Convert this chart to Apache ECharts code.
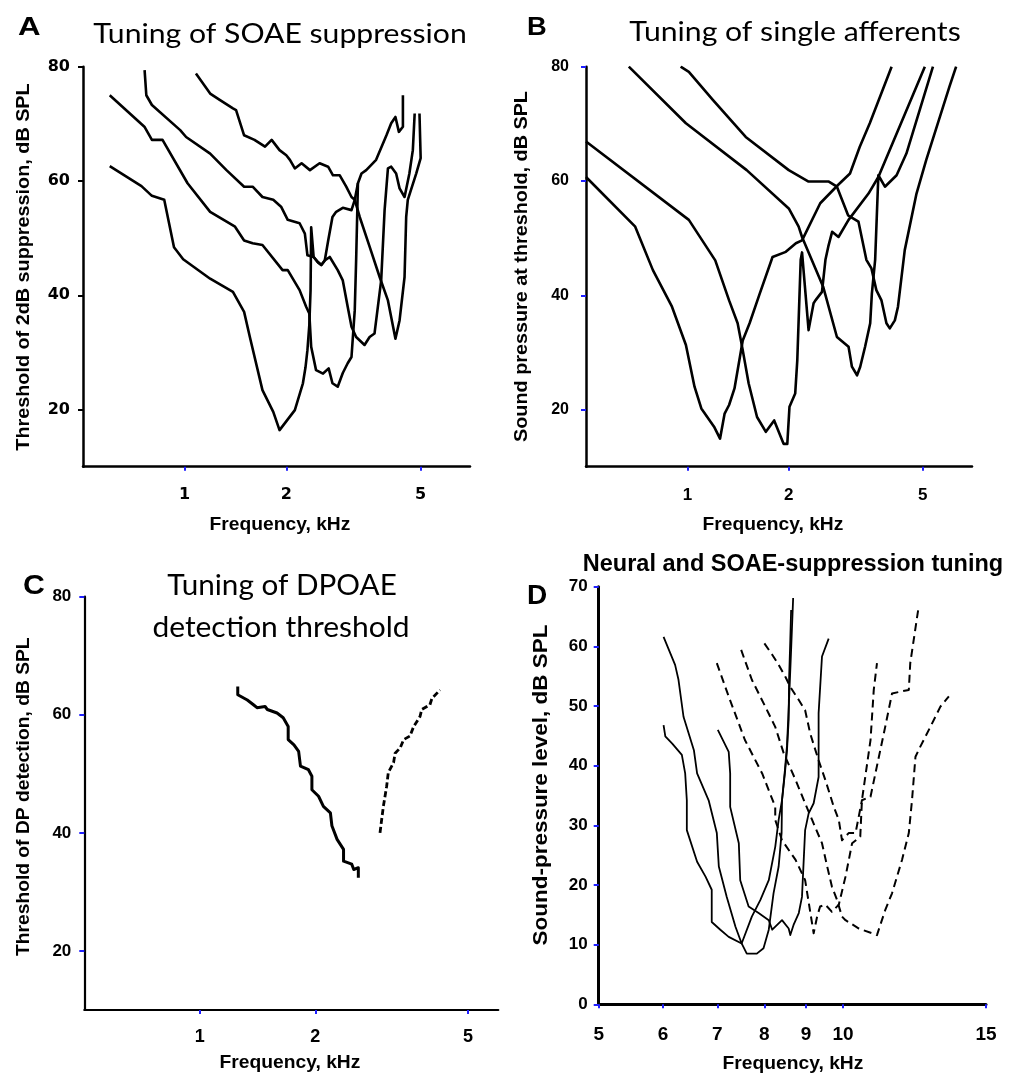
<!DOCTYPE html>
<html><head><meta charset="utf-8">
<script src="https://cdn.jsdelivr.net/npm/echarts@6/dist/echarts.min.js"></script>
<style>html,body{margin:0;padding:0;background:#fff}#c{width:1025px;height:1075px}</style>
</head><body><div id="c"></div>
<script>
// ---------- Panel A: SOAE suppression tuning (kHz, dB SPL) ----------
const soaeA1 = [[0.6,62.6],[0.745,59.1],[0.8,57.4],[0.87,56.7],[0.93,48.4],[0.99,46.3],[1.19,42.9],[1.39,40.6],[1.5,37.1],[1.56,32.7],[1.7,23.4],[1.83,19.6],[1.91,16.4],[2.12,19.9],[2.24,24.6],[2.28,27.4],[2.31,30.4],[2.34,34.8],[2.36,40.9],[2.37,51.9],[2.41,46.7],[2.48,45.8],[2.54,45.3],[2.6,46.1],[2.66,49.5],[2.74,53.7],[2.81,54.6],[2.94,55.3],[3.12,54.9],[3.19,56.7],[3.26,59.6]];
const soaeA2 = [[0.6,75],[0.76,69.5],[0.8,67.2],[0.86,67.2],[1.02,59.6],[1.19,54.6],[1.41,52],[1.5,49.6],[1.59,49.1],[1.7,48.8],[1.95,44.4],[2.02,44.4],[2.19,40.9],[2.29,38],[2.34,36.8],[2.37,31],[2.45,26.9],[2.57,26.3],[2.67,27.2],[2.74,24.6],[2.84,24],[2.94,26.4],[3.04,28.1],[3.12,29.2],[3.19,37.4],[3.22,46.1],[3.26,59.6],[3.34,61.3],[3.45,61.9],[3.69,63.7],[3.96,68],[4.09,70.1],[4.21,71.2],[4.31,68.6],[4.43,69.5],[4.43,75]];
const soaeA3 = [[0.761,79.4],[0.77,75],[0.8,73.3],[0.97,68.9],[1.01,67.7],[1.19,64.8],[1.33,61.9],[1.5,59],[1.59,59],[1.7,57.2],[1.83,56.7],[1.93,55.5],[2.02,53.2],[2.19,52.6],[2.27,50.8],[2.31,47],[2.41,46.7],[2.48,45.8],[2.54,45.3],[2.6,46.1],[2.69,46.7],[2.84,44.4],[2.94,42.6],[3.04,38],[3.12,34.5],[3.22,32.7],[3.41,31.3],[3.53,32.7],[3.65,33.3],[3.82,42.6],[3.91,54.9],[4.0,62.2],[4.09,62.5],[4.23,61.3],[4.33,58.7],[4.48,57.2],[4.63,61.3],[4.74,65.4],[4.8,71.8]];
const soaeA4 = [[1.08,78.8],[1.19,75.3],[1.27,74.2],[1.39,72.7],[1.42,72.4],[1.5,68],[1.61,67.2],[1.73,66],[1.81,67.2],[1.91,65.4],[2.0,64.5],[2.05,63.7],[2.12,62.2],[2.22,63.1],[2.35,61.9],[2.51,63.1],[2.66,62.5],[2.75,61],[2.88,61],[3.01,59],[3.12,57.2],[3.19,56.7],[3.3,53.7],[3.53,48.5],[3.78,43.2],[4.0,39.1],[4.21,32.4],[4.33,35.6],[4.48,43.2],[4.53,53.7],[4.58,56.7],[4.85,61.3],[5.0,64],[4.96,71.8]];

// ---------- Panel B: single afferent tuning ----------
const afferentB1 = [[0.5,60.7],[0.7,52],[0.79,44.4],[0.9,38],[0.99,31.3],[1.05,24],[1.1,20.2],[1.2,17],[1.25,14.9],[1.29,19.3],[1.33,20.8],[1.38,23.7],[1.46,32.1],[1.53,35.1],[1.64,40.3],[1.79,46.7],[1.96,47.6],[2.1,49.1],[2.19,49.6],[2.48,56.1],[2.8,59.3],[3.04,61.3],[3.25,66],[3.48,70.1],[4.04,80]];
const afferentB2 = [[0.5,66.9],[1.01,53.2],[1.21,46.1],[1.33,39.1],[1.41,35.1],[1.46,30.4],[1.52,24.6],[1.61,18.7],[1.71,16.1],[1.81,18.1],[1.93,14],[1.98,14],[2.01,20.5],[2.09,22.8],[2.12,28.6],[2.17,46.2],[2.19,47.5],[2.29,33.9],[2.37,38.6],[2.4,39.1],[2.51,40.6],[2.57,46.2],[2.62,48.5],[2.69,51.1],[2.81,50.2],[3.01,53.2],[3.45,57.8],[3.69,60.7],[5.07,80]];
const afferentB3 = [[0.67,80],[0.99,70.1],[1.5,61.9],[2.0,55.2],[2.14,52],[2.19,50.2],[2.53,41.5],[2.78,32.7],[3.01,31],[3.08,27.5],[3.19,26],[3.26,27.5],[3.37,31],[3.49,35.1],[3.53,40.3],[3.61,46.2],[3.69,61],[3.86,59],[4.18,61],[4.47,64.8],[5.36,80]];
const afferentB4 = [[0.955,80],[1.01,79.1],[1.19,74.2],[1.49,67.7],[2.0,61.9],[2.29,59.9],[2.63,59.9],[2.78,59],[3.0,54],[3.22,52.9],[3.4,46.2],[3.52,44.7],[3.64,40.9],[3.77,39.1],[3.9,35.1],[3.99,34.2],[4.13,35.6],[4.22,38],[4.42,47.9],[4.79,57.8],[5.12,63.7],[6.0,76.5],[6.28,80]];

// ---------- Panel C: DPOAE detection threshold ----------
const dpSolid = [[1.256,64.8],[1.256,63.4],[1.33,62.5],[1.38,61.7],[1.41,61.2],[1.48,61.4],[1.5,60.9],[1.59,60.3],[1.65,59.5],[1.7,58],[1.7,55.8],[1.76,54.9],[1.81,53.8],[1.83,51.3],[1.92,50.7],[1.96,49.6],[1.96,47.3],[2.04,46.2],[2.1,44.5],[2.19,43.4],[2.21,41.2],[2.28,38.9],[2.37,37.2],[2.37,35.2],[2.49,34.7],[2.52,33.8],[2.59,34.1],[2.59,32.4]];
const dpDashed = [[2.95,40],[2.98,42.3],[3.01,44.5],[3.07,47.9],[3.1,50.2],[3.2,51.9],[3.23,53.5],[3.33,54.4],[3.4,55.8],[3.53,56.4],[3.61,58],[3.75,59.7],[3.79,60.9],[3.98,61.7],[4.03,62.8],[4.23,64.2]];

// ---------- Panel D: neural (solid) and SOAE-suppression (dashed) ----------
const neuralD1 = [[6.01,61.6],[6.21,56.9],[6.27,54.4],[6.36,48.2],[6.55,42.6],[6.61,38.7],[6.83,34.2],[6.99,28.7],[7.03,23.1],[7.19,18],[7.37,13],[7.5,10.2],[7.72,14.7],[7.91,17.5],[8.1,20.8],[8.25,26.4],[8.33,30.9],[8.41,34.2],[8.48,38.8],[8.53,42.6],[8.57,47.7],[8.58,54.4],[8.61,61.1],[8.63,66.1]];
const neuralD2 = [[6.01,46.8],[6.04,44.9],[6.16,43.7],[6.33,41.8],[6.39,38.7],[6.42,34.2],[6.42,29.2],[6.61,23.9],[6.77,21.4],[6.89,19.2],[6.89,13.8],[7.06,12.5],[7.23,11.3],[7.5,10.2],[7.61,8.5],[7.83,8.5],[7.98,9.4],[8.1,12.5],[8.21,18.6],[8.33,23.1],[8.4,28.7],[8.41,34.2],[8.48,39.3],[8.53,43.4],[8.58,51],[8.63,59.4],[8.68,68.1]];
const neuralD3 = [[7.01,46],[7.23,42.3],[7.26,38.7],[7.26,33.1],[7.44,27],[7.47,20.8],[7.65,16.4],[7.87,15.3],[8.1,14.1],[8.18,12.5],[8.41,14.1],[8.57,12.7],[8.61,11.6],[8.69,13.3],[8.82,15.3],[8.9,18],[8.98,29.2],[9.07,32],[9.2,33.7],[9.33,38.1],[9.33,48.8],[9.42,58.3],[9.6,61.3]];
const soaeD1 = [[6.99,57.2],[7.23,51.6],[7.57,44.3],[7.95,38.7],[8.25,33.1],[8.25,30.9],[8.41,27.5],[8.74,24.2],[8.98,20.8],[9.2,11.9],[9.29,14.7],[9.37,16.4],[9.51,16.7],[9.69,15.5],[9.88,16.7],[10.07,21.4],[10.26,27],[10.5,28.1],[10.55,34.2],[10.81,44.3],[10.91,52.7],[11.01,57.2]];
const soaeD2 = [[7.49,59.4],[7.72,54.4],[8.02,49.9],[8.25,46.5],[8.45,42.1],[8.74,37.6],[8.98,33.7],[9.16,30.9],[9.42,27],[9.56,23.1],[9.69,19.7],[9.83,17.5],[9.97,14.7],[10.07,14.1],[10.46,12.7],[11.01,11.6],[11.27,15.8],[11.49,18.6],[11.82,24.2],[12.05,28.7],[12.16,34.2],[12.28,41.5],[12.45,43.2],[12.81,46.5],[13.18,49.9],[13.5,51.6]];
const soaeD3 = [[8.0,60.5],[8.18,58.6],[8.33,56.9],[8.49,54.9],[8.61,53.2],[8.82,51],[8.98,49.3],[9.11,45.4],[9.33,40.9],[9.51,37.6],[9.74,33.1],[9.88,30.9],[9.97,27.5],[10.16,28.7],[10.36,28.7],[10.55,34.2],[10.81,34.8],[11.07,41.5],[11.27,46.5],[11.49,52.1],[11.76,52.4],[12.05,52.7],[12.1,57.2],[12.39,66.6]];

// ---------- ticks ----------
const freqTicksABC = [1, 2, 5];
const levelTicksABC = [20, 40, 60, 80];
const freqTicksD = [5, 6, 7, 8, 9, 10, 15];
const levelTicksD = [0, 10, 20, 30, 40, 50, 60, 70];

const LOG = v => Math.log10(v);
const BLUE = '#1f1fff';
const ARIAL = '"Liberation Sans", Arial, sans-serif';
const DEJAVU = '"DejaVu Sans", sans-serif';

function xAxisLog(gi, lo, hi, ticks, o) {
  const cv = ticks.map(LOG);
  return {
    gridIndex: gi, type: 'value', min: LOG(lo), max: LOG(hi),
    axisLine: { show: true, onZero: false, lineStyle: { color: '#000', width: o.lw } },
    axisTick: { show: true, customValues: cv, length: 4, lineStyle: { color: BLUE, width: 2 } },
    axisLabel: { customValues: cv, margin: o.margin, color: '#000', fontSize: o.fs, fontWeight: 'bold', fontFamily: o.ff,
      formatter: v => String(Math.round(Math.pow(10, v))) },
    splitLine: { show: false }
  };
}
function yAxisLin(gi, lo, hi, ticks, o) {
  return {
    gridIndex: gi, type: 'value', min: lo, max: hi,
    axisLine: { show: true, onZero: false, lineStyle: { color: '#000', width: o.lw } },
    axisTick: { show: true, customValues: ticks, length: 5, lineStyle: { color: o.tc, width: 2 } },
    axisLabel: { customValues: ticks, margin: o.margin, color: '#000', fontSize: o.fs, fontWeight: 'bold', fontFamily: o.ff },
    splitLine: { show: false }
  };
}
function line(data, gi, width, dash) {
  return {
    type: 'line', xAxisIndex: gi, yAxisIndex: gi, silent: true, animation: false,
    showSymbol: false, symbol: 'none',
    data: data.map(p => [LOG(p[0]), p[1]]),
    lineStyle: { color: '#000', width: width, type: dash || 'solid', cap: 'butt', join: 'round' }
  };
}
function txt(t, x, y, font, sx, rot, align) {
  return { type: 'text', x: x, y: y, rotation: rot || 0, scaleX: sx || 1, silent: true,
    style: { text: t, font: font, fill: '#000', textAlign: align || 'center', textVerticalAlign: 'middle' } };
}

const chart = echarts.init(document.getElementById('c'), null, { renderer: 'canvas' });
chart.setOption({
  animation: false,
  backgroundColor: '#fff',
  grid: [
    { left: 83, top: 66.7, width: 387, height: 400 },
    { left: 586, top: 66.7, width: 386, height: 400 },
    { left: 84.3, top: 596.7, width: 414, height: 413.3 },
    { left: 598.7, top: 586.7, width: 387.3, height: 417.6 }
  ],
  xAxis: [
    xAxisLog(0, 0.5, 7, freqTicksABC, { lw: 2.5, margin: 20, fs: 16, ff: DEJAVU }),
    xAxisLog(1, 0.5, 7, freqTicksABC, { lw: 2.5, margin: 20, fs: 17, ff: ARIAL }),
    xAxisLog(2, 0.5, 6, freqTicksABC, { lw: 2.2, margin: 18, fs: 18, ff: ARIAL }),
    xAxisLog(3, 5, 15, freqTicksD, { lw: 3, margin: 21, fs: 19, ff: ARIAL })
  ],
  yAxis: [
    yAxisLin(0, 10, 80, levelTicksABC, { lw: 2.5, margin: 13, fs: 16, ff: DEJAVU, tc: '#000' }),
    yAxisLin(1, 10, 80, levelTicksABC, { lw: 2.5, margin: 17, fs: 16, ff: ARIAL, tc: BLUE }),
    yAxisLin(2, 10, 80, levelTicksABC, { lw: 2.2, margin: 13, fs: 17, ff: ARIAL, tc: BLUE }),
    yAxisLin(3, 0, 70, levelTicksD, { lw: 3, margin: 11, fs: 17, ff: ARIAL, tc: BLUE })
  ],
  series: [
    line(soaeA1, 0, 2.6), line(soaeA2, 0, 2.6), line(soaeA3, 0, 2.6), line(soaeA4, 0, 2.6),
    line(afferentB1, 1, 2.6), line(afferentB2, 1, 2.6), line(afferentB3, 1, 2.6), line(afferentB4, 1, 2.6),
    line(dpSolid, 2, 3), line(dpDashed, 2, 2.8, [6, 3]),
    line(neuralD1, 3, 1.8), line(neuralD2, 3, 1.8), line(neuralD3, 3, 1.8),
    line(soaeD1, 3, 2, [8, 5]), line(soaeD2, 3, 2, [8, 5]), line(soaeD3, 3, 2, [8, 5])
  ],
  graphic: [
    txt('A', 18, 28, 'bold 26px ' + ARIAL, 1.2, 0, 'left'),
    txt('B', 527, 28, 'bold 26px ' + ARIAL, 1.05, 0, 'left'),
    txt('C', 23, 586, 'bold 28px ' + ARIAL, 1.08, 0, 'left'),
    txt('D', 527, 596, 'bold 28px ' + ARIAL, 1.0, 0, 'left'),
    txt('Tuning of SOAE suppression', 280, 35, '26px Lato, sans-serif', 1.16),
    txt('Tuning of single afferents', 795, 33, '26px Lato, sans-serif', 1.16),
    txt('Tuning of DPOAE', 282, 586, '28px Lato, sans-serif', 1.06),
    txt('detection threshold', 281, 628, '28px Lato, sans-serif', 1.07),
    txt('Neural and SOAE-suppression tuning', 793, 565, 'bold 23.5px ' + ARIAL, 1.0),
    txt('Threshold of 2dB suppression, dB SPL', 23.5, 267, 'bold 18.5px ' + ARIAL, 1.07, Math.PI / 2),
    txt('Sound pressure at threshold, dB SPL', 521.5, 266.5, 'bold 18.5px ' + ARIAL, 1.07, Math.PI / 2),
    txt('Threshold of DP detection, dB SPL', 24, 796.7, 'bold 18.5px ' + ARIAL, 1.04, Math.PI / 2),
    txt('Sound-pressure level, dB SPL', 541, 785, 'bold 21px ' + ARIAL, 1.07, Math.PI / 2),
    txt('Frequency, kHz', 280, 525, 'bold 18.5px ' + ARIAL, 1.04),
    txt('Frequency, kHz', 773, 525, 'bold 18.5px ' + ARIAL, 1.04),
    txt('Frequency, kHz', 290, 1063, 'bold 18.5px ' + ARIAL, 1.04),
    txt('Frequency, kHz', 793, 1064, 'bold 18.5px ' + ARIAL, 1.04)
  ]
});
</script></body></html>
